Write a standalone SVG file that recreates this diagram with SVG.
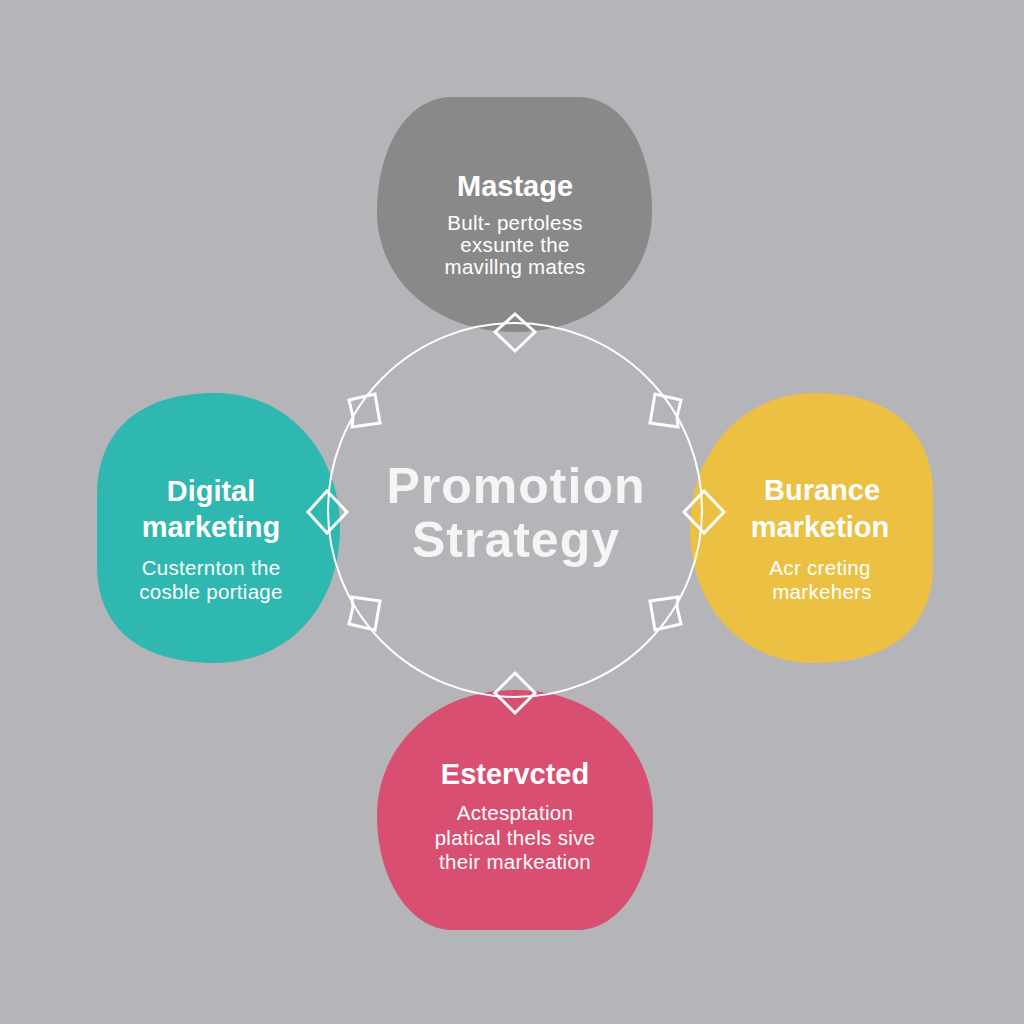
<svg xmlns="http://www.w3.org/2000/svg" width="1024" height="1024" viewBox="0 0 1024 1024">
<style>
.title{font-family:"Liberation Sans",Arial,sans-serif;font-weight:bold;fill:#f5f5f5;text-anchor:middle}
.head{font-family:"Liberation Sans",Arial,sans-serif;font-weight:bold;font-size:29px;fill:#ffffff;text-anchor:middle}
.sub{font-family:"Liberation Sans",Arial,sans-serif;font-size:20.5px;letter-spacing:0.3px;fill:#ffffff;text-anchor:middle}
.line{fill:none;stroke:#ffffff;stroke-width:2}
.mark{fill:none;stroke:#ffffff;stroke-width:3;stroke-linejoin:miter}
</style>
<rect width="1024" height="1024" fill="#b5b4b8"/>
<g id="node-top">
<path d="M450,97 L580,97 C625,99 652,150 652,212 C652,280 595,332 515,332 C435,332 377,280 377,212 C377,150 405,99 450,97 Z" fill="#898989"/>
<text class="head" x="515" y="196">Mastage</text>
<text class="sub" x="515" y="230">Bult- pertoless</text>
<text class="sub" x="515" y="252">exsunte the</text>
<text class="sub" x="515" y="274">mavillng mates</text>
</g>
<g id="node-left">
<path d="M97,495 C97,430 140,393 215,393 C290,393 340,455 340,528 C340,605 290,663 215,663 C140,663 97,628 97,565 Z" fill="#2fb8b0"/>
<text class="head" x="211" y="501">Digital</text>
<text class="head" x="211" y="537">marketing</text>
<text class="sub" x="211" y="575">Custernton the</text>
<text class="sub" x="211" y="599">cosble portiage</text>
</g>
<g id="node-right">
<path d="M933,495 C933,430 890,393 815,393 C740,393 690,455 690,528 C690,605 740,663 815,663 C890,663 933,628 933,565 Z" fill="#ebc043"/>
<text class="head" x="822" y="500">Burance</text>
<text class="head" x="820" y="537">marketion</text>
<text class="sub" x="820" y="575">Acr creting</text>
<text class="sub" x="822" y="599">markehers</text>
</g>
<g id="node-bottom">
<path d="M515,690 C600,690 653,750 653,815 C653,880 620,928 580,930 L450,930 C410,928 377,880 377,815 C377,750 430,690 515,690 Z" fill="#d94f72"/>
<text class="head" x="515" y="784">Estervcted</text>
<text class="sub" x="515" y="820">Actesptation</text>
<text class="sub" x="515" y="845">platical thels sive</text>
<text class="sub" x="515" y="869">their markeation</text>
</g>
<g id="node-center">
<text class="title" x="516" y="503" font-size="50" letter-spacing="1">Promotion</text>
<text class="title" x="516" y="557" font-size="50" letter-spacing="1">Strategy</text>
</g>
<g id="connectors">
<circle class="line" cx="515" cy="510" r="187"/>
<path class="mark" d="M515,314 L535,332 L515,351 L495,332 Z"/>
<path class="mark" d="M327,491 L347,512 L327,533 L308,512 Z"/>
<path class="mark" d="M704,491 L724,512 L704,533 L684,512 Z"/>
<path class="mark" d="M515,673 L535,693 L515,713 L495,693 Z"/>
<path class="mark" d="M349,400 L375,394 L380,423 L352,427 L353,417 Z"/>
<path class="mark" d="M681,400 L655,394 L650,423 L678,427 L677,417 Z"/>
<path class="mark" d="M349,624 L375,630 L380,601 L352,597 L353,607 Z"/>
<path class="mark" d="M681,624 L655,630 L650,601 L678,597 L677,607 Z"/>
</g>
</svg>
